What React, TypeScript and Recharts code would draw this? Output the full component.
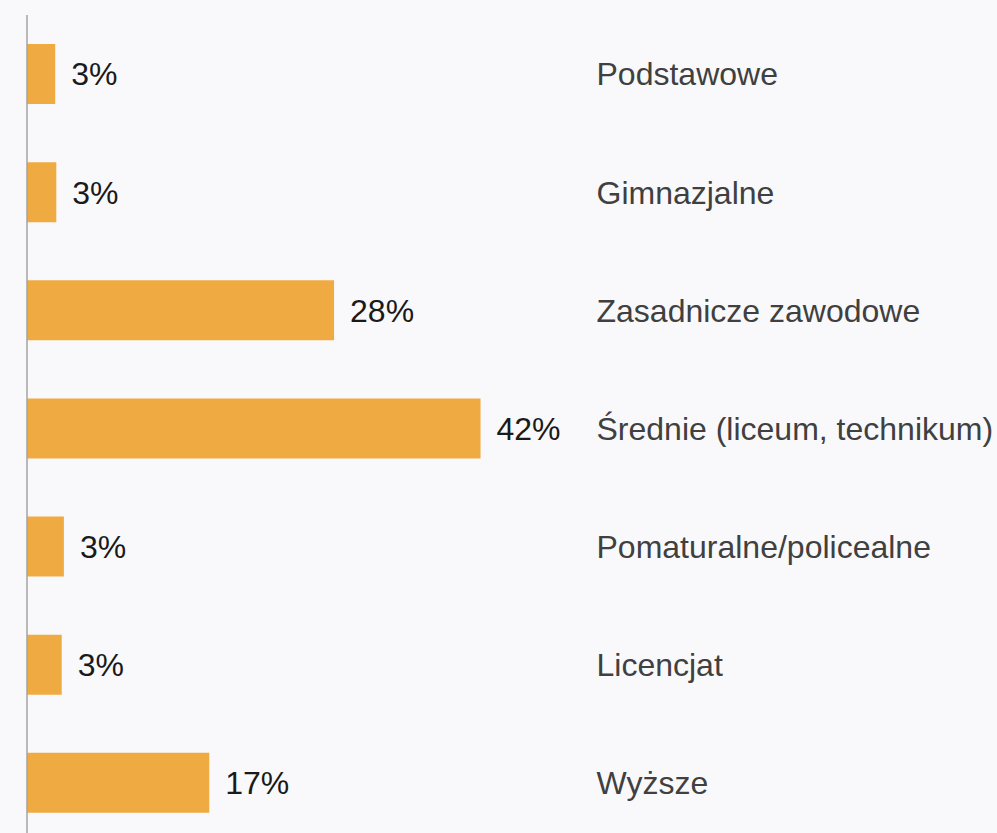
import React from 'react';
import { BarChart, Bar, XAxis, YAxis, LabelList } from 'recharts';

// education level shares, in percent
const categories = [
  'Podstawowe',
  'Gimnazjalne',
  'Zasadnicze zawodowe',
  'Średnie (liceum, technikum)',
  'Pomaturalne/policealne',
  'Licencjat',
  'Wyższe',
];
const shares = [2.6, 2.7, 28.3, 41.8, 3.4, 3.2, 16.8];

const data = categories.map((name, i) => ({ name, value: shares[i] }));

const FONT = '"Liberation Sans", Arial, sans-serif';

export default function App() {
  return (
    <div
      style={{
        position: 'fixed',
        top: 0,
        left: 0,
        width: 997,
        height: 833,
        overflow: 'hidden',
        background: '#f9f9fb',
        fontFamily: FONT,
      }}
    >
      <BarChart
        width={997}
        height={850}
        data={data}
        layout="vertical"
        margin={{ top: 15, right: 0, bottom: 8, left: 0 }}
      >
        <XAxis type="number" domain={[0, 50]} hide />
        <YAxis
          yAxisId="left"
          type="category"
          dataKey="name"
          width={27}
          tick={false}
          tickLine={false}
          axisLine={{ stroke: '#a3a3a3', strokeWidth: 1.5 }}
        />
        <YAxis
          yAxisId="right"
          orientation="right"
          type="category"
          dataKey="name"
          width={427.5}
          axisLine={false}
          tickLine={false}
          tickSize={0}
          tickMargin={27}
          tick={{ fill: '#404040', fontSize: 32, fontFamily: FONT, textAnchor: 'start' }}
        />
        <Bar yAxisId="left" dataKey="value" fill="#f0aa42" barSize={60} isAnimationActive={false}>
          <LabelList
            dataKey="value"
            position="right"
            offset={16}
            formatter={(v: number) => `${Math.round(v)}%`}
            style={{ fill: '#1a1a1a', fontSize: 32, fontFamily: FONT }}
          />
        </Bar>
      </BarChart>
    </div>
  );
}
